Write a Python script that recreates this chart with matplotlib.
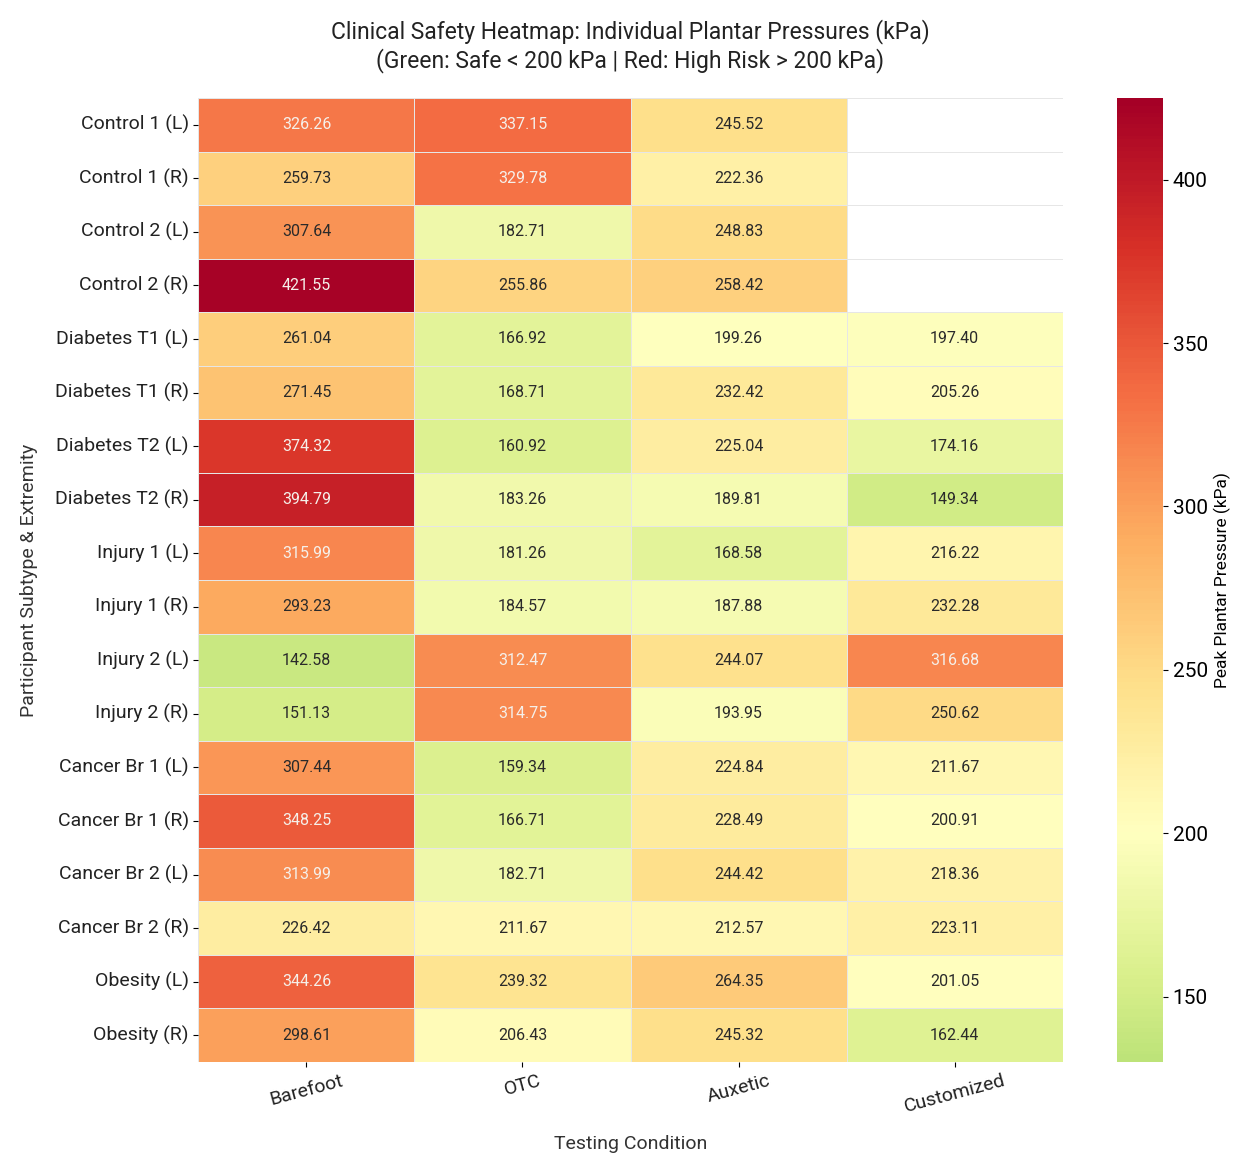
import numpy as np
import pandas as pd
import matplotlib
matplotlib.use("Agg")
import matplotlib.pyplot as plt
import seaborn as sns

rows = ["Control 1 (L)", "Control 1 (R)", "Control 2 (L)", "Control 2 (R)",
        "Diabetes T1 (L)", "Diabetes T1 (R)", "Diabetes T2 (L)", "Diabetes T2 (R)",
        "Injury 1 (L)", "Injury 1 (R)", "Injury 2 (L)", "Injury 2 (R)",
        "Cancer Br 1 (L)", "Cancer Br 1 (R)", "Cancer Br 2 (L)", "Cancer Br 2 (R)",
        "Obesity (L)", "Obesity (R)"]
conditions = ["Barefoot", "OTC", "Auxetic", "Customized"]

barefoot = [326.26, 259.73, 307.64, 421.55, 261.04, 271.45, 374.32, 394.79, 315.99,
            293.23, 142.58, 151.13, 307.44, 348.25, 313.99, 226.42, 344.26, 298.61]
otc = [337.15, 329.78, 182.71, 255.86, 166.92, 168.71, 160.92, 183.26, 181.26,
       184.57, 312.47, 314.75, 159.34, 166.71, 182.71, 211.67, 239.32, 206.43]
auxetic = [245.52, 222.36, 248.83, 258.42, 199.26, 232.42, 225.04, 189.81, 168.58,
           187.88, 244.07, 193.95, 224.84, 228.49, 244.42, 212.57, 264.35, 245.32]
customized = [np.nan, np.nan, np.nan, np.nan, 197.40, 205.26, 174.16, 149.34, 216.22,
              232.28, 316.68, 250.62, 211.67, 200.91, 218.36, 223.11, 201.05, 162.44]

df = pd.DataFrame({"Barefoot": barefoot, "OTC": otc, "Auxetic": auxetic,
                   "Customized": customized}, index=rows)[conditions]

plt.rcParams['font.family'] = ['Roboto', 'DejaVu Sans']

fig = plt.figure(figsize=(12.56, 11.75), dpi=100)
ax = fig.add_axes([0.158, 0.0962, 0.688, 0.8204])
cax = fig.add_axes([0.889, 0.0962, 0.037, 0.8204])

sns.heatmap(df, ax=ax, cbar_ax=cax, cmap="RdYlGn_r", center=200, vmin=130, vmax=425,
            annot=True, fmt=".2f", annot_kws={"size": 11.5},
            linewidths=0.4, linecolor="#e6e6e6",
            cbar_kws={"label": "Peak Plantar Pressure (kPa)"})

# text colour: light on the darker (high) cells only
for t in ax.texts:
    v = float(t.get_text())
    t.set_color("#f5f0ea" if v > 310 else "#2a2a2a")

ax.set_title("Clinical Safety Heatmap: Individual Plantar Pressures (kPa)\n"
             "(Green: Safe < 200 kPa | Red: High Risk > 200 kPa)",
             fontsize=16.5, pad=22, color="#222222")
ax.set_xlabel("Testing Condition", fontsize=14, labelpad=14, color="#333333")
ax.set_ylabel("Participant Subtype & Extremity", fontsize=14, labelpad=12, color="#333333")
ax.tick_params(axis="x", labelsize=14, rotation=15, labelcolor="#222222")
ax.tick_params(axis="y", labelsize=14, rotation=0, labelcolor="#222222")
cax.tick_params(labelsize=15)
cax.yaxis.label.set_size(12.5)

fig.savefig("out.png", dpi=100)
